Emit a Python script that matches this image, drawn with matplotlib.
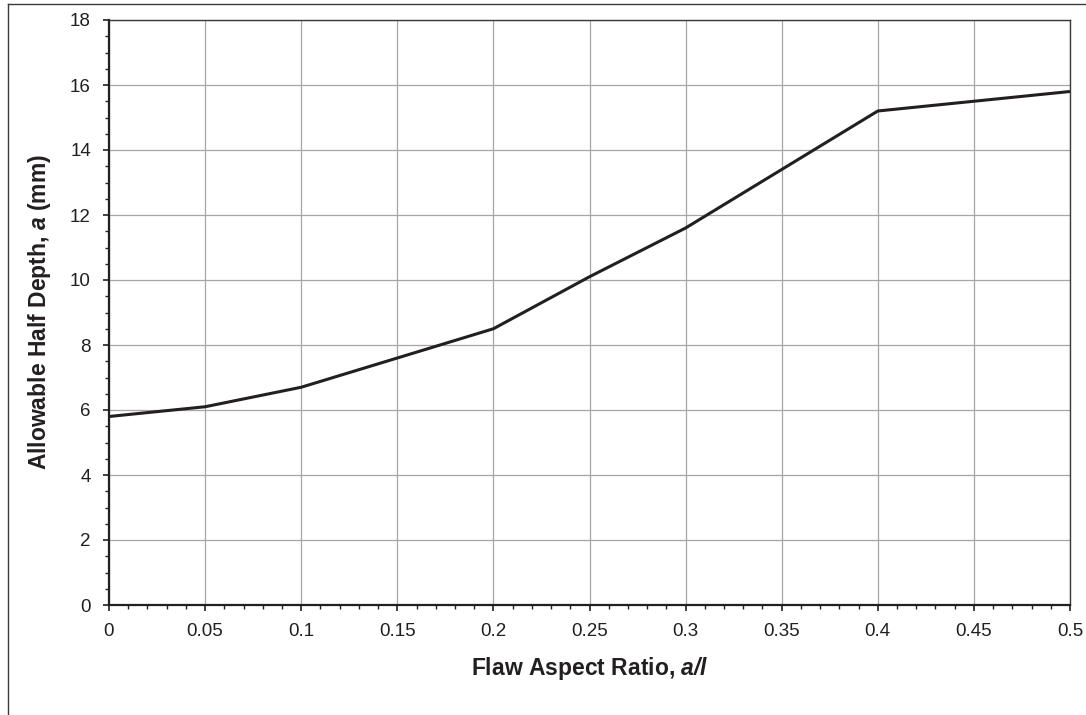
import numpy as np
import matplotlib
matplotlib.use("Agg")
import matplotlib.pyplot as plt
from matplotlib.lines import Line2D
from matplotlib.ticker import MultipleLocator

plt.rcParams['font.family'] = ['Liberation Sans', 'DejaVu Sans']
plt.rcParams['mathtext.fontset'] = 'custom'
plt.rcParams['mathtext.bfit'] = 'Liberation Sans:italic:bold'
plt.rcParams['mathtext.it'] = 'Liberation Sans:italic'
plt.rcParams['mathtext.rm'] = 'Liberation Sans'
plt.rcParams['mathtext.bf'] = 'Liberation Sans:bold'

# data
aspect_ratio = [0, 0.05, 0.1, 0.2, 0.25, 0.3, 0.4, 0.5]
half_depth = [5.8, 6.1, 6.7, 8.5, 10.1, 11.6, 15.2, 15.8]

x_ticks = [0, 0.05, 0.1, 0.15, 0.2, 0.25, 0.3, 0.35, 0.4, 0.45, 0.5]
x_labels = ["0", "0.05", "0.1", "0.15", "0.2", "0.25", "0.3", "0.35", "0.4", "0.45", "0.5"]
y_ticks = [0, 2, 4, 6, 8, 10, 12, 14, 16, 18]

fig = plt.figure(figsize=(10.86, 7.15), dpi=100)
ax = fig.add_axes([109/1086, 1 - 605/715, (1070 - 109)/1086, (605 - 20)/715])

ax.plot(aspect_ratio, half_depth, color="#231f20", lw=2.2, solid_capstyle="butt", zorder=3)

ax.set_xlim(0, 0.5)
ax.set_ylim(0, 18)
ax.set_xticks(x_ticks)
ax.set_xticklabels(x_labels)
ax.set_yticks(y_ticks)
ax.xaxis.set_minor_locator(MultipleLocator(0.01))
ax.yaxis.set_minor_locator(MultipleLocator(0.5))
ax.grid(True, which="major", color="#a6a6a6", lw=0.9)
ax.set_axisbelow(True)

ax.tick_params(which="major", length=4, width=1.2, color="#231f20",
               labelsize=13.5, labelcolor="#231f20", pad=9)
ax.tick_params(which="minor", length=3, width=1.0, color="#231f20")

for s in ["left", "bottom"]:
    ax.spines[s].set_linewidth(1.6)
    ax.spines[s].set_color("#231f20")
for s in ["top", "right"]:
    ax.spines[s].set_linewidth(1.0)
    ax.spines[s].set_color("#3a3a3a")

fig.text(589.5/1086, 1 - 668/715, r"Flaw Aspect Ratio, $\mathbfit{a/l}$",
         ha="center", va="center", fontsize=16.5, fontweight="bold", color="#231f20")
fig.text(40/1086, 1 - 312/715, r"Allowable Half Depth, $\mathbfit{a}$ (mm)",
         ha="center", va="center", rotation=90, fontsize=16.5, fontweight="bold", color="#231f20")

# outer frame (top and left only)
fig.add_artist(Line2D([8/1086, 1], [1 - 4/715, 1 - 4/715], transform=fig.transFigure,
                      color="#3a3a3a", lw=1.0))
fig.add_artist(Line2D([8/1086, 8/1086], [0, 1 - 4/715], transform=fig.transFigure,
                      color="#3a3a3a", lw=1.0))

fig.savefig("out.png", dpi=100)
